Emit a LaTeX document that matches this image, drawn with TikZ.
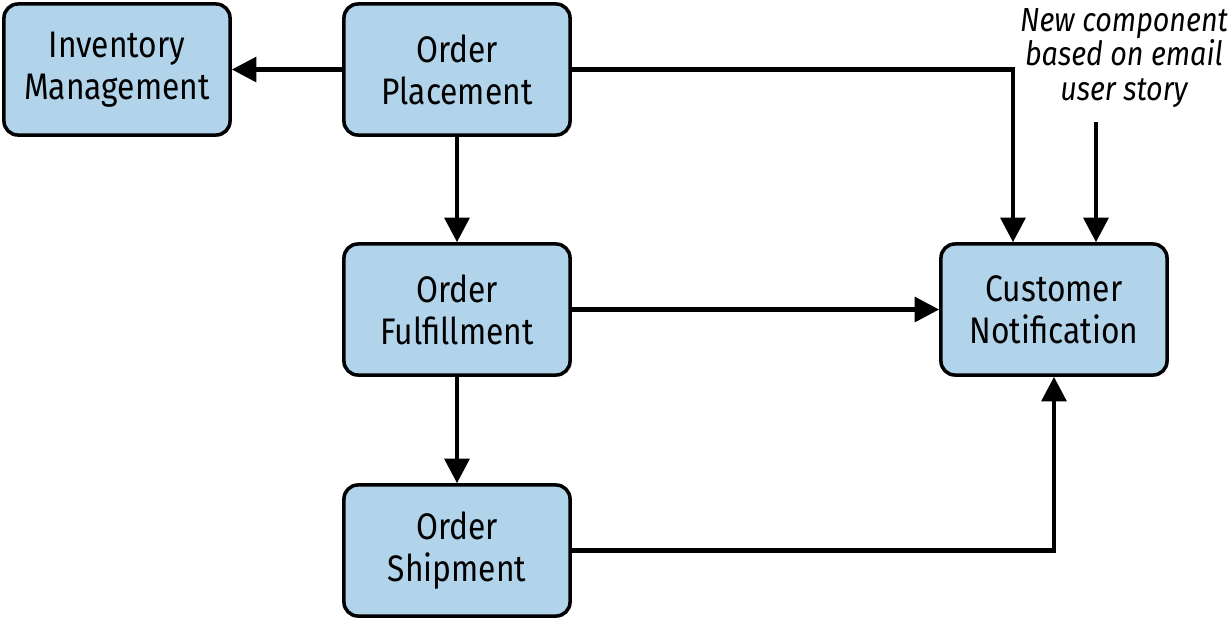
\documentclass[tikz,border=0pt]{standalone}
\usepackage{fontspec}
\setmainfont{Fira Sans}[FakeStretch=0.86]
\usetikzlibrary{arrows.meta}
\definecolor{boxblue}{RGB}{178,212,234}
\begin{document}
\begin{tikzpicture}[x=0.01cm, y=-0.01cm,
    box/.style={draw, fill=boxblue, line width=1pt, rounded corners=4pt,
        minimum width=2.26cm, minimum height=1.31cm, align=center,
        font=\fontsize{10.5}{12}\selectfont},
    flow/.style={-{Triangle[length=7pt, width=7pt]}, line width=1.3pt}]
    \useasboundingbox (0, 0) rectangle (1232, 620);

    \node[box] (inv) at (117, 69.5) {Inventory\\Management};
    \node[box] (place) at (457, 69.5) {Order\\Placement};
    \node[box] (fulfil) at (457, 309.5) {Order\\Fulfillment};
    \node[box] (ship) at (457, 550.5) {Order\\Shipment};
    \node[box] (notify) at (1054, 309.5) {Customer\\Notification};
    \node[align=center, inner sep=0pt, font=\fontsize{9.5}{9.8}\selectfont\itshape]
        (note) at (1124, 58) {New component\\based on email\\user story};
    \coordinate (noteend) at (1096, 122);

    \draw[flow] (place) -- (inv);
    \draw[flow] (place) -- (fulfil);
    \draw[flow] (fulfil) -- (ship);
    \draw[flow] (fulfil) -- (notify);
    \draw[flow] (place.east) -| (notify.north -| 1013, 0);
    \draw[flow] (noteend) -- (notify.north -| noteend);
    \draw[flow] (ship.east) -| (notify.south);
\end{tikzpicture}
\end{document}
